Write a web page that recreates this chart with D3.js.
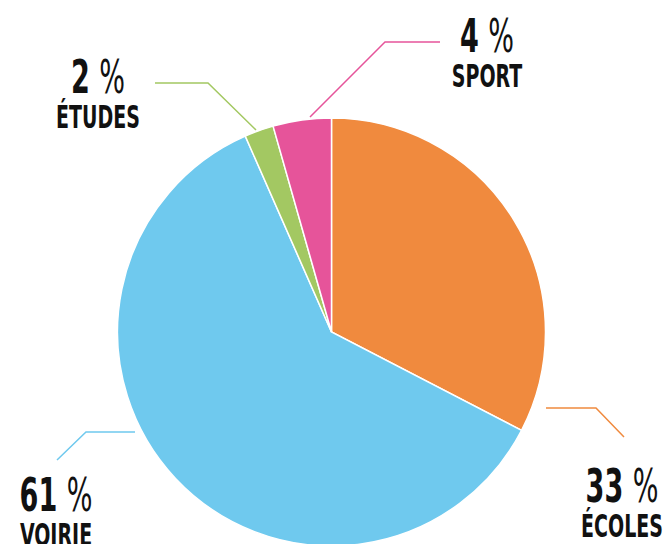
<!DOCTYPE html>
<html>
<head>
<meta charset="utf-8">
<script src="https://cdn.jsdelivr.net/npm/d3@7"></script>
<style>
  body { margin: 0; background: #fff; }
  text { font-family: "Liberation Sans Narrow", "DejaVu Sans Condensed", "Roboto", sans-serif; font-weight: bold; fill: #111; }
</style>
</head>
<body>
<div id="pieChart"></div>
<script>
// data
const categories = ["ÉCOLES", "VOIRIE", "ÉTUDES", "SPORT"];
const shares = [32.6, 60.8, 2.2, 4.4];
const shareLabels = ["33", "61", "2", "4"];
const colors = ["#f08a3e", "#6fc9ee", "#a3c862", "#e6549a"];

const width = 667;
const height = 544;
const cx = 331.5;
const cy = 332;
const radius = 214;

// hand placed labels: text centre, baseline of the number, leader polyline
const labelLayout = [
  { x: 622, y: 502, line: [[546, 408], [596, 408], [624, 437]] },
  { x: 56, y: 511, line: [[57, 460], [86, 432], [135, 432]] },
  { x: 98, y: 93, line: [[155, 83], [208, 83], [256, 130]] },
  { x: 487, y: 52, line: [[440, 42], [385, 42], [310, 117]] },
];

const slices = categories.map((c, i) => ({
  category: c,
  value: shares[i],
  label: shareLabels[i],
  color: colors[i],
  layout: labelLayout[i],
}));

const svg = d3
  .select("#pieChart")
  .append("svg")
  .attr("width", width)
  .attr("height", height);

const pie = d3.pie().sort(null).value((d) => d.value);
const path = d3.arc().innerRadius(0).outerRadius(radius);

const g = svg.append("g").attr("transform", `translate(${cx},${cy})`);

g.selectAll("path")
  .data(pie(slices))
  .enter()
  .append("path")
  .attr("d", path)
  .attr("fill", (d) => d.data.color)
  .attr("stroke", "#fff")
  .attr("stroke-width", 1.5);

// leader lines
svg
  .selectAll("polyline")
  .data(slices)
  .enter()
  .append("polyline")
  .attr("points", (d) => d.layout.line.map((p) => p.join(",")).join(" "))
  .attr("fill", "none")
  .attr("stroke", (d) => d.color)
  .attr("stroke-width", 1.5);

const labels = svg
  .selectAll("g.label")
  .data(slices)
  .enter()
  .append("g")
  .attr("class", "label")
  .attr("transform", (d) => `translate(${d.layout.x},${d.layout.y})`);

const num = labels
  .append("text")
  .attr("text-anchor", "middle")
  .attr("transform", "scale(0.64,1)")
  .style("font-size", "47px");
num.append("tspan").text((d) => d.label + " ");
num.append("tspan").style("font-weight", "normal").text("%");

labels
  .append("text")
  .attr("text-anchor", "middle")
  .attr("transform", "scale(0.66,1)")
  .attr("y", 35)
  .style("font-size", "32px")
  .text((d) => d.category);
</script>
</body>
</html>
